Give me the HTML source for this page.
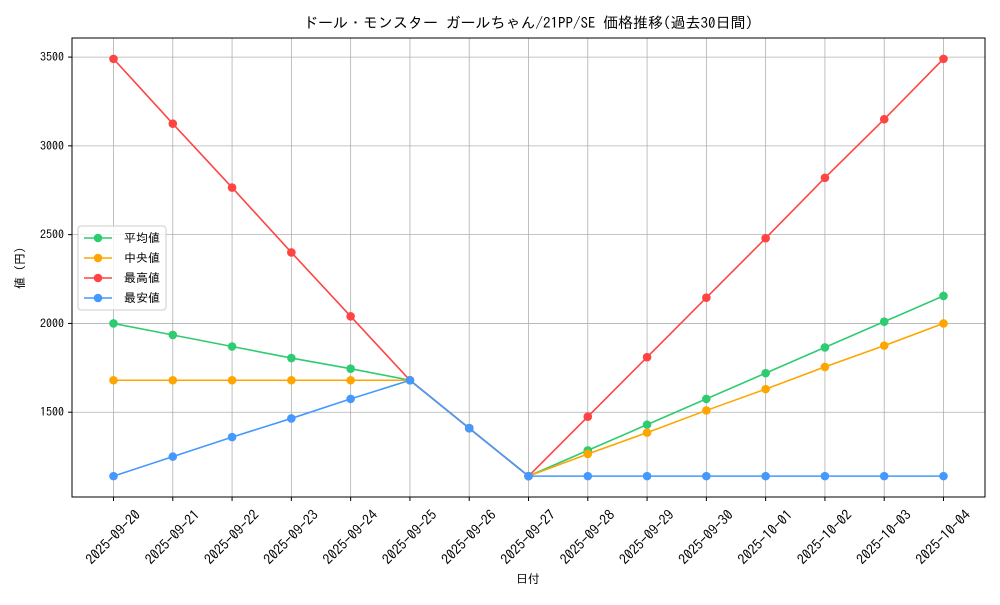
<!DOCTYPE html>
<html><head><meta charset="utf-8"><style>
body{margin:0;background:#fff}
svg{font-family:"IPAGothic","Liberation Sans","Noto Sans CJK JP",sans-serif}
</style></head><body>
<svg id="chart" width="1000" height="600" xmlns="http://www.w3.org/2000/svg">
<rect width="1000" height="600" fill="#fff"/>
<text x="528" y="28" text-anchor="middle" font-size="15">ドール・モンスター ガールちゃん/21PP/SE 価格推移(過去30日間)</text>
<g id="grid"></g><g id="axes"></g><g id="series"></g>
<text x="528" y="583" text-anchor="middle" font-size="12">日付</text>
<text x="24" y="268" text-anchor="middle" font-size="12" transform="rotate(-90 24 268)">値 (円)</text>
<g id="legend"></g>
</svg>
<script>
const dates=["2025-09-20","2025-09-21","2025-09-22","2025-09-23","2025-09-24","2025-09-25","2025-09-26","2025-09-27","2025-09-28","2025-09-29","2025-09-30","2025-10-01","2025-10-02","2025-10-03","2025-10-04"];
const avgVals=[2000,1935,1870,1805,1745,1680,1410,1140,1285,1430,1575,1720,1865,2010,2155];
const medVals=[1680,1680,1680,1680,1680,1680,1410,1140,1265,1385,1510,1630,1755,1875,2000];
const maxVals=[3490,3125,2765,2400,2040,1680,1410,1140,1475,1810,2145,2480,2820,3150,3490];
const minVals=[1140,1250,1360,1465,1575,1680,1410,1140,1140,1140,1140,1140,1140,1140,1140];
const yTicks=[1500,2000,2500,3000,3500];
const seriesNames=["平均値","中央値","最高値","最安値"];
const NS="http://www.w3.org/2000/svg";
const L=72,R=985,T=38,B=497;
const all=[...avgVals,...medVals,...maxVals,...minVals];
const dmin=Math.min(...all),dmax=Math.max(...all),pad=(dmax-dmin)*0.05;
const y0=dmin-pad,y1=dmax+pad;
const xs=i=>L+(i+0.7)/(dates.length-1+1.4)*(R-L);
const ys=v=>B-(v-y0)/(y1-y0)*(B-T);
function mk(tag,attrs,parent){const e=document.createElementNS(NS,tag);for(const k in attrs)e.setAttribute(k,attrs[k]);parent.appendChild(e);return e;}
const grid=document.getElementById('grid'),axes=document.getElementById('axes'),ser=document.getElementById('series'),leg=document.getElementById('legend');
dates.forEach((d,i)=>{const x=xs(i);
const g=mk('line',{x1:x,x2:x,y1:T,y2:B,stroke:'#b0b0b0','stroke-width':0.8},grid);


mk('line',{x1:x,x2:x,y1:B,y2:B+4,stroke:'#000'},axes);
const tx=x-0.5,ty=B+40;
const t=mk('text',{x:tx,y:ty,'font-size':14,'text-anchor':'middle','dominant-baseline':'central',transform:`rotate(-45 ${tx} ${ty})`},axes);t.textContent=d;

});
yTicks.forEach(v=>{const y=ys(v);
const g=mk('line',{x1:L,x2:R,y1:y,y2:y,stroke:'#b0b0b0','stroke-width':0.8},grid);


mk('line',{x1:L-4,x2:L,y1:y,y2:y,stroke:'#000'},axes);
const t=mk('text',{x:L-8,y:y+4,'font-size':12,'text-anchor':'end'},axes);t.textContent=v;

});
const frame=mk('rect',{x:L,y:T,width:R-L,height:B-T,fill:'none',stroke:'#000','stroke-width':1},axes);


const data=[avgVals,medVals,maxVals,minVals],cols=['#2ecc71','#ffa500','#ff4444','#4499ff'],keys=['avg','median','max','min'];
data.forEach((arr,s)=>{
const p=mk('polyline',{points:arr.map((v,i)=>xs(i)+','+ys(v)).join(' '),fill:'none',stroke:cols[s],'stroke-width':1.6},ser);


arr.forEach((v,i)=>{const c=mk('circle',{cx:xs(i),cy:ys(v),r:4.3,fill:cols[s]},ser);

});});
const lb=mk('rect',{x:78,y:226,width:88,height:84,rx:3,fill:'#fff','fill-opacity':0.8,stroke:'#ccc'},leg);
seriesNames.forEach((n,s)=>{const y=238+s*20;
mk('line',{x1:84,x2:112,y1:y,y2:y,stroke:cols[s],'stroke-width':1.6},leg);
mk('circle',{cx:98,cy:y,r:4.3,fill:cols[s]},leg);
const t=mk('text',{x:124,y:y+4,'font-size':12},leg);t.textContent=n;

});
</script>
</body></html>
